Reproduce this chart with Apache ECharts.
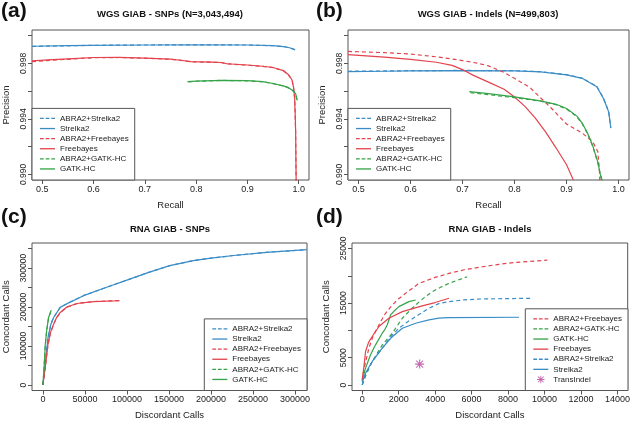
<!DOCTYPE html>
<html><head><meta charset="utf-8">
<script src="https://cdn.jsdelivr.net/npm/echarts@6/dist/echarts.min.js"></script>
<style>html,body{margin:0;padding:0;background:#fff}#c{width:633px;height:422px}</style>
</head><body><div id="c"></div>
<script>
// ---------- Panel (a): WGS GIAB - SNPs ----------
const aStrelka2 = [[0.48,0.99923],[0.55,0.99927],[0.6,0.9993],[0.7,0.99932],[0.8,0.99933],[0.9,0.99932],[0.95,0.99927],[0.97,0.99921],[0.98,0.99914],[0.99,0.99903],[0.993,0.99896]];
const aAbraStrelka2 = [[0.48,0.99922],[0.55,0.99926],[0.6,0.9993],[0.7,0.99932],[0.8,0.99933],[0.9,0.99932],[0.95,0.99927],[0.97,0.99921],[0.98,0.99913],[0.99,0.99902],[0.993,0.99895]];
const aFreebayes = [[0.48,0.99818],[0.52,0.99826],[0.56,0.99834],[0.6,0.99842],[0.65,0.99843],[0.7,0.99838],[0.75,0.9983],[0.77,0.99822],[0.79,0.99812],[0.83,0.99809],[0.85,0.99806],[0.86,0.99797],[0.9,0.99788],[0.93,0.99779],[0.95,0.9977],[0.97,0.99748],[0.98,0.99718],[0.987,0.9968],[0.99,0.99625],[0.992,0.9955],[0.993,0.9945],[0.994,0.993],[0.9945,0.991],[0.995,0.9894]];
const aAbraFreebayes = [[0.48,0.99812],[0.52,0.99822],[0.56,0.99832],[0.6,0.9984],[0.65,0.99842],[0.7,0.99837],[0.75,0.99829],[0.77,0.99821],[0.79,0.99811],[0.83,0.99808],[0.85,0.99805],[0.86,0.99796],[0.9,0.99787],[0.93,0.99778],[0.95,0.99769],[0.97,0.99747],[0.98,0.99717],[0.987,0.99678],[0.99,0.99622],[0.992,0.99545],[0.993,0.9944],[0.994,0.9929],[0.9945,0.9909],[0.995,0.9894]];
const aGatk = [[0.783,0.99668],[0.8,0.99672],[0.85,0.99678],[0.9,0.99675],[0.93,0.99668],[0.95,0.99655],[0.97,0.99638],[0.98,0.99625],[0.99,0.996],[0.994,0.9958],[0.997,0.99533]];
const aAbraGatk = [[0.785,0.99666],[0.8,0.99671],[0.85,0.99677],[0.9,0.99674],[0.93,0.99667],[0.95,0.99654],[0.97,0.99637],[0.98,0.99623],[0.99,0.99598],[0.994,0.99577],[0.997,0.9953]];

// ---------- Panel (b): WGS GIAB - Indels ----------
const bStrelka2 = [[0.48,0.99741],[0.55,0.99743],[0.6,0.99745],[0.7,0.99747],[0.8,0.99745],[0.85,0.99738],[0.9,0.99717],[0.93,0.99692],[0.958,0.99632],[0.971,0.99547],[0.981,0.9945],[0.985,0.99334]];
const bAbraStrelka2 = [[0.48,0.99743],[0.55,0.99745],[0.6,0.99747],[0.7,0.99749],[0.8,0.99747],[0.85,0.9974],[0.9,0.99719],[0.93,0.99694],[0.958,0.99634],[0.971,0.99549],[0.981,0.99452],[0.985,0.99336]];
const bFreebayes = [[0.48,0.99862],[0.55,0.99845],[0.6,0.99828],[0.65,0.99808],[0.68,0.99785],[0.7,0.99755],[0.72,0.99715],[0.75,0.99665],[0.78,0.99613],[0.8,0.99558],[0.82,0.9949],[0.84,0.99405],[0.86,0.99305],[0.88,0.9919],[0.9,0.9907],[0.913,0.9896]];
const bAbraFreebayes = [[0.48,0.99886],[0.55,0.99877],[0.6,0.99867],[0.65,0.99847],[0.7,0.9982],[0.73,0.998],[0.75,0.99782],[0.78,0.99734],[0.8,0.99692],[0.83,0.99625],[0.85,0.99552],[0.87,0.9948],[0.9,0.99363],[0.93,0.99298],[0.95,0.99237],[0.96,0.99165],[0.963,0.9904],[0.964,0.9895]];
const bGatk = [[0.713,0.99596],[0.75,0.99582],[0.8,0.99558],[0.85,0.9953],[0.88,0.99505],[0.9,0.99475],[0.92,0.9942],[0.93,0.9937],[0.94,0.993],[0.95,0.9921],[0.96,0.9909],[0.965,0.99],[0.969,0.9895]];
const bAbraGatk = [[0.715,0.99588],[0.75,0.99574],[0.8,0.99553],[0.85,0.99527],[0.88,0.99502],[0.9,0.99471],[0.92,0.99415],[0.93,0.99365],[0.94,0.99295],[0.95,0.99205],[0.96,0.99085],[0.965,0.98995],[0.968,0.9895]];

// ---------- Panel (c): RNA GIAB - SNPs ----------
const cStrelka2 = [[0,0],[2000,40000],[4000,78000],[6000,121000],[9500,156000],[12700,173000],[20600,199000],[30000,210000],[48300,229000],[75000,250000],[100000,269000],[125000,288000],[151000,306000],[179000,319000],[200000,325000],[227000,332000],[266000,340000],[314000,347000]];
const cAbraStrelka2 = [[0,0],[2000,40000],[4000,78000],[6000,121000],[9500,156000],[12700,173000],[20600,199000],[30000,210000],[48300,229000],[75000,250000],[100000,269000],[125000,288000],[151000,306000],[179000,319000],[200000,325000],[227000,332000],[266000,340000],[314000,347000]];
const cFreebayes = [[0,0],[3000,50000],[6000,104000],[9000,135000],[12700,156000],[16000,172000],[20600,186000],[28500,200000],[40400,209000],[60000,214000],[91000,216000]];
const cAbraFreebayes = [[0,0],[3000,49000],[6000,102000],[9000,133000],[12700,155000],[16000,171000],[20600,185000],[28500,199500],[40400,208500],[60000,214000],[91000,216500]];
const cGatk = [[0,0],[1500,50000],[2800,104000],[4500,140000],[6700,173000],[9900,192000]];
const cAbraGatk = [[0,0],[1500,49000],[2800,103000],[4500,139000],[6700,172000],[10100,192500]];

// ---------- Panel (d): RNA GIAB - Indels ----------
const dAbraFreebayes = [[0,800],[100,3000],[366,6750],[600,9000],[915,11000],[1250,13000],[1650,14660],[2000,15800],[2380,16790],[3110,18600],[4000,19700],[4760,20440],[5600,21100],[6590,21650],[7500,22100],[8420,22450],[10150,22870]];
const dAbraGatk = [[0,0],[200,1800],[550,4320],[1100,7360],[1650,9490],[2200,12230],[2600,13600],[2930,14660],[3400,16000],[3840,17090],[4300,17900],[4760,18610],[5760,19830]];
const dGatk = [[0,800],[183,3100],[450,5500],[730,7360],[1100,9490],[1250,10200],[1370,11000],[1555,12830],[1800,13700],[2010,14360],[2560,15270],[2930,15570]];
const dFreebayes = [[0,1000],[100,3500],[183,6140],[350,7800],[550,8880],[915,10710],[1460,12230],[2200,13440],[3290,14480],[4000,15100],[4760,15880]];
const dAbraStrelka2 = [[0,0],[200,2000],[550,4320],[1100,6750],[1500,8600],[2010,10400],[2500,11600],[2930,12530],[3300,13300],[3660,14050],[4200,14900],[4760,15270],[5600,15600],[6590,15760],[9280,15880]];
const dStrelka2 = [[0,500],[200,2300],[550,4320],[1100,6750],[1600,8700],[2200,10400],[2930,11310],[3660,11920],[4200,12250],[4760,12350],[8600,12410]];
const dTransIndel = [[3150,3830]];

// ---------- Tick values ----------
const recallTicks = [0.5,0.6,0.7,0.8,0.9,1.0];
const precTicks = [0.990,0.992,0.994,0.996,0.998,1.000];
const precLabels = [0.990,0.994,0.998];
const cXTicks = [0,50000,100000,150000,200000,250000,300000];
const cYTicks = [0,50000,100000,150000,200000,250000,300000,350000];
const cYLabels = [0,100000,200000,300000];
const dXTicks = [0,2000,4000,6000,8000,10000,12000,14000];
const dYTicks = [0,5000,10000,15000,20000,25000];
const dYLabels = [0,5000,15000,25000];

const legendA = ['ABRA2+Strelka2','Strelka2','ABRA2+Freebayes','Freebayes','ABRA2+GATK-HC','GATK-HC'];
const legendD = ['ABRA2+Freebayes','ABRA2+GATK-HC','GATK-HC','Freebayes','ABRA2+Strelka2','Strelka2','TransIndel'];

// ---------- Styling ----------
const BLUE='#3a8cc6', RED='#e3434d', GREEN='#35a348', PURPLE='#b0459d', AX='#555';
const FONT='Liberation Sans, Arial, sans-serif';
const colorOf = n => n.indexOf('Strelka2')>=0 ? BLUE : n.indexOf('Freebayes')>=0 ? RED : n.indexOf('GATK')>=0 ? GREEN : PURPLE;
const dashed = n => n.indexOf('ABRA2')===0;
const DASH_ICON='path://M0,0M16,10M0,4.3H4V5.7H0Z M6,4.3H10V5.7H6Z M12,4.3H16V5.7H12Z';
const SOLID_ICON='path://M0,0M16,10M0,4.3H16V5.7H0Z';
const STAR_ICON='path://M0,0M16,10M7.52,1H8.48V9H7.52Z M4,4.52H12V5.48H4Z M4.64,2.28L5.28,1.64L11.36,7.72L10.72,8.36Z M10.72,1.64L11.36,2.28L5.28,8.36L4.64,7.72Z';
const STAR='path://M4.4,0H5.6V10H4.4Z M0,4.4H10V5.6H0Z M0.8,1.6L1.6,0.8L9.2,8.4L8.4,9.2Z M8.4,0.8L9.2,1.6L1.6,9.2L0.8,8.4Z';

function lineSeries(name, data, gi){
  return {type:'line', name, data, xAxisIndex:gi, yAxisIndex:gi, showSymbol:false, symbol:'none',
    color: colorOf(name), smooth:false, clip:true, silent:true,
    lineStyle:{width:1.2, color:colorOf(name), type: dashed(name)?[4,3]:'solid'}};
}
function xAx(gi, min, max, ticks, labels, name, fmt){
  return {type:'value', gridIndex:gi, min, max, name, nameLocation:'middle', nameGap:20,
    nameTextStyle:{fontFamily:FONT, fontSize:9.5, color:'#222'},
    splitLine:{show:false}, axisLine:{show:false, onZero:false},
    axisTick:{show:true, inside:false, length:4, lineStyle:{color:AX}, customValues:ticks},
    axisLabel:{show:true, margin:5, fontFamily:FONT, fontSize:9, color:'#222', customValues:labels, formatter:fmt}};
}
function yAx(gi, min, max, ticks, labels, name, fmt){
  return {type:'value', gridIndex:gi, min, max, name, nameLocation:'middle', nameGap:21,
    nameTextStyle:{fontFamily:FONT, fontSize:9.5, color:'#222'},
    splitLine:{show:false}, axisLine:{show:false, onZero:false},
    axisTick:{show:true, inside:false, length:4, lineStyle:{color:AX}, customValues:ticks},
    axisLabel:{show:true, rotate:90, margin:4, fontFamily:FONT, fontSize:8.5, color:'#222', customValues:labels, formatter:fmt}};
}
function legend(names, pos){
  return Object.assign({orient:'vertical', itemGap:0, itemWidth:15, itemHeight:10, selectedMode:false,
    borderColor:AX, borderWidth:1, borderRadius:0, backgroundColor:'#fff', padding:[5,6,6,8],
    textStyle:{fontFamily:FONT, fontSize:8, color:'#222', lineHeight:10.1},
    data: names.map(n => n==='TransIndel'
      ? {name:n, icon:STAR_ICON, itemStyle:{color:PURPLE}}
      : {name:n, icon: dashed(n)?DASH_ICON:SOLID_ICON})}, pos);
}
const f3 = v => v.toFixed(3);
const f1 = v => v.toFixed(1);
const fi = v => String(Math.round(v));

const grids = [
  {left:32, top:30, width:277, height:150},
  {left:348, top:30, width:281, height:150},
  {left:32, top:243, width:275, height:147.5},
  {left:352, top:243, width:276, height:147.5}
].map(g => Object.assign({show:true, borderColor:AX, borderWidth:1, backgroundColor:'transparent'}, g));

const series = [];
[['ABRA2+Strelka2',aAbraStrelka2],['Strelka2',aStrelka2],['ABRA2+Freebayes',aAbraFreebayes],['Freebayes',aFreebayes],['ABRA2+GATK-HC',aAbraGatk],['GATK-HC',aGatk]].forEach(p=>series.push(lineSeries(p[0],p[1],0)));
[['ABRA2+Strelka2',bAbraStrelka2],['Strelka2',bStrelka2],['ABRA2+Freebayes',bAbraFreebayes],['Freebayes',bFreebayes],['ABRA2+GATK-HC',bAbraGatk],['GATK-HC',bGatk]].forEach(p=>series.push(lineSeries(p[0],p[1],1)));
[['ABRA2+Strelka2',cAbraStrelka2],['Strelka2',cStrelka2],['ABRA2+Freebayes',cAbraFreebayes],['Freebayes',cFreebayes],['ABRA2+GATK-HC',cAbraGatk],['GATK-HC',cGatk]].forEach(p=>series.push(lineSeries(p[0],p[1],2)));
[['ABRA2+Freebayes',dAbraFreebayes],['ABRA2+GATK-HC',dAbraGatk],['GATK-HC',dGatk],['Freebayes',dFreebayes],['ABRA2+Strelka2',dAbraStrelka2],['Strelka2',dStrelka2]].forEach(p=>series.push(lineSeries(p[0],p[1],3)));
series.push({type:'scatter', name:'TransIndel', data:dTransIndel, xAxisIndex:3, yAxisIndex:3, symbol:STAR, symbolSize:9, color:PURPLE, itemStyle:{color:PURPLE}, silent:true});

const titleStyle = {fontFamily:FONT, fontSize:9.5, fontWeight:'bold', color:'#111'};
const panelStyle = {fontFamily:FONT, fontSize:21, fontWeight:'bold', color:'#111'};
const option = {
  animation:false,
  backgroundColor:'#fff',
  title:[
    {text:'(a)', left:1, top:1, textStyle:panelStyle, padding:0},
    {text:'(b)', left:316, top:1, textStyle:panelStyle, padding:0},
    {text:'(c)', left:1, top:207, textStyle:panelStyle, padding:0},
    {text:'(d)', left:316, top:207, textStyle:panelStyle, padding:0},
    {text:'WGS GIAB - SNPs (N=3,043,494)', left:170, textAlign:'center', top:9, textStyle:titleStyle, padding:0},
    {text:'WGS GIAB - Indels (N=499,803)', left:488, textAlign:'center', top:9, textStyle:titleStyle, padding:0},
    {text:'RNA GIAB - SNPs', left:170, textAlign:'center', top:224, textStyle:titleStyle, padding:0},
    {text:'RNA GIAB - Indels', left:490, textAlign:'center', top:224, textStyle:titleStyle, padding:0}
  ],
  grid: grids,
  xAxis:[
    xAx(0, 0.48, 1.02, recallTicks, recallTicks, 'Recall', f1),
    xAx(1, 0.48, 1.02, recallTicks, recallTicks, 'Recall', f1),
    xAx(2, -13000, 314300, cXTicks, cXTicks, 'Discordant Calls', fi),
    xAx(3, -560, 14560, dXTicks, dXTicks, 'Discordant Calls', fi)
  ],
  yAxis:[
    yAx(0, 0.9896, 1.0004, precTicks, precLabels, 'Precision', f3),
    yAx(1, 0.9896, 1.0004, precTicks, precLabels, 'Precision', f3),
    yAx(2, -14000, 364000, cYTicks, cYLabels, 'Concordant Calls', fi),
    yAx(3, -1000, 26000, dYTicks, dYLabels, 'Concordant Calls', fi)
  ],
  legend:[
    legend(legendA, {left:32, bottom:242}),
    legend(legendA, {left:348, bottom:242}),
    legend(legendA, {right:326, bottom:31.5}),
    legend(legendD, {right:5, bottom:31.5})
  ],
  series
};
const chart = echarts.init(document.getElementById('c'), null, {renderer:'canvas'});
chart.setOption(option);
</script></body></html>
